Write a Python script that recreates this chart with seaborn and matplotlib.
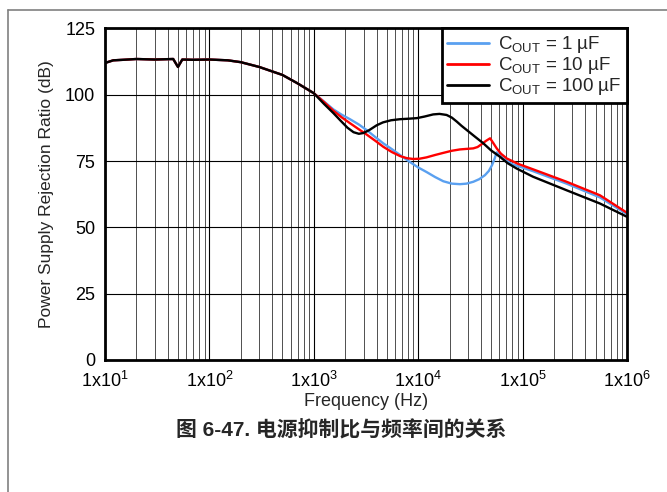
import pandas as pd
import numpy as np
import matplotlib
matplotlib.use("Agg")
import matplotlib.pyplot as plt
from matplotlib.ticker import FixedLocator, NullFormatter
import seaborn as sns

# data (freq in Hz, PSRR in dB)
freq_low = [10, 12, 15, 20, 30, 45, 50, 55, 70, 100, 150, 200, 300, 500, 700, 1000]
psrr_low = [112, 113, 113.2, 113.5, 113.3, 113.5, 110.5, 113.3, 113.2, 113.3, 113, 112.3, 110.5, 107.5, 104.3, 100.6]

freq_1u = [1250, 1540, 1850, 2220, 2700, 3210, 3900, 4630, 5600, 6700, 8300, 10000, 12000, 14500, 17400, 21000, 25100, 29000,
           33700, 38500, 43600, 47500, 51000, 54000, 56500, 60000, 65000, 80000, 126000, 264000, 551000, 1000000]
psrr_1u = [97.5, 94.5, 92.5, 90.8, 88.8, 86.7, 84.0, 81.7, 79.5, 77.3, 74.7, 72.6, 70.9, 69.0, 67.4, 66.5, 66.3, 66.5,
           67.2, 68.2, 69.7, 71.3, 73.5, 76.0, 78.3, 77.3, 76.0, 73.8, 71.2, 66.5, 61.3, 55]

freq_10u = [1250, 1540, 1850, 2220, 2700, 3210, 3900, 4630, 5600, 6700, 7800, 8980, 10300, 12000, 14500, 17400, 21000, 25100,
            29000, 33700, 37000, 40600, 44500, 48800, 52000, 56500, 62000, 70500, 90000, 126000, 264000, 551000, 1000000]
psrr_10u = [97.3, 94, 91.5, 89.3, 87.0, 85, 82.6, 80.4, 78.4, 76.9, 76.1, 75.8, 75.9, 76.4, 77.3, 78.1, 78.9, 79.4,
            79.6, 79.8, 80.3, 81.4, 82.6, 83.6, 82.0, 79.8, 77.8, 76, 74.0, 71.9, 67.2, 62.1, 55.5]

freq_100u = [1250, 1540, 1800, 2100, 2400, 2700, 3000, 3400, 4000, 4600, 5500, 6700, 8200, 9700, 11500, 13900, 16000, 18700,
             21000, 23400, 26000, 29200, 35000, 41800, 50000, 60800, 72000, 87700, 126000, 264000, 551000, 1000000]
psrr_100u = [96.6, 93.1, 90.3, 87.6, 85.9, 85.3, 85.6, 86.7, 88.5, 89.6, 90.4, 90.8, 91.0, 91.2, 91.8, 92.6, 92.8, 92.4,
             91.4, 89.9, 88.3, 86.7, 84.2, 81.8, 79.0, 76.6, 74.2, 72.2, 69.1, 64, 59, 54]

labels = [r"C$_\mathregular{OUT}$ = 1 µF", r"C$_\mathregular{OUT}$ = 10 µF", r"C$_\mathregular{OUT}$ = 100 µF"]
colors = ["#5aa0f0", "#ff0000", "#000000"]

frames = []
for lab, f, p in zip(labels, [freq_1u, freq_10u, freq_100u], [psrr_1u, psrr_10u, psrr_100u]):
    frames.append(pd.DataFrame({"Frequency": freq_low + f, "PSRR": psrr_low + p, "Cout": lab}))
df = pd.concat(frames, ignore_index=True)

sns.set_style("white")
plt.rcParams["font.family"] = ["Liberation Sans", "Noto Sans CJK SC"]
plt.rcParams["mathtext.fontset"] = "custom"
plt.rcParams["mathtext.rm"] = "Liberation Sans"

fig = plt.figure(figsize=(6.67, 4.92), dpi=100)
ax = fig.add_axes([105 / 667, 1 - 360 / 492, 522 / 667, 331.5 / 492])

sns.lineplot(data=df, x="Frequency", y="PSRR", hue="Cout", palette=dict(zip(labels, colors)),
             linewidth=1.7, ax=ax, sort=False, estimator=None)

ax.set_xscale("log")
ax.set_xlim(10, 1e6)
ax.set_ylim(0, 125)

decades = [10, 100, 1000, 1e4, 1e5, 1e6]
ax.xaxis.set_major_locator(FixedLocator(decades))
ax.set_xticklabels([r"1x10$^\mathregular{%d}$" % k for k in range(1, 7)], fontsize=13)
minor = [m * d for d in decades[:-1] for m in range(2, 10)]
ax.xaxis.set_minor_locator(FixedLocator(minor))
ax.xaxis.set_minor_formatter(NullFormatter())
ax.set_yticks([0, 25, 50, 75, 100, 125])
ax.tick_params(axis="both", which="both", length=0, labelsize=13, colors="black")
ax.tick_params(axis="x", pad=8)
ax.tick_params(axis="y", pad=7)

ax.grid(True, which="major", axis="both", color="black", linewidth=0.8)
ax.grid(True, which="minor", axis="x", color="#333333", linewidth=0.6)
ax.set_axisbelow(True)
for s in ax.spines.values():
    s.set_visible(True)
    s.set_color("black")
    s.set_linewidth(2)

ax.set_xlabel("Frequency (Hz)", fontsize=13, labelpad=1)
ax.set_ylabel("Power Supply Rejection Ratio (dB)", fontsize=12.5, labelpad=8)

leg = ax.legend(loc="upper right", bbox_to_anchor=(1, 1), borderaxespad=0, fontsize=13.5,
                frameon=True, fancybox=False, framealpha=1, handlelength=2.2,
                labelspacing=0.0, borderpad=0.3, handletextpad=0.5)
leg.get_frame().set_edgecolor("black")
leg.get_frame().set_linewidth(2)
for line in leg.get_lines():
    line.set_linewidth(2)

fig.text(341 / 667, 1 - 430 / 492, "图 6-47. 电源抑制比与频率间的关系",
         ha="center", va="center", fontsize=15, fontweight="bold")

# page frame lines
fig.add_artist(plt.Line2D([8 / 667, 8 / 667], [0, 1 - 10 / 492], color="#808080", linewidth=1.2))
fig.add_artist(plt.Line2D([8 / 667, 1], [1 - 10 / 492, 1 - 10 / 492], color="#808080", linewidth=1.2))

fig.savefig("out.png", dpi=100)
